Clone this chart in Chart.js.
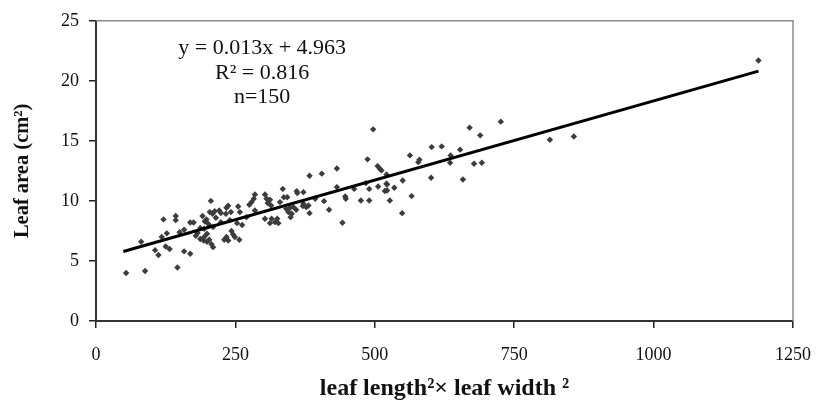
<!DOCTYPE html>
<html><head><meta charset="utf-8">
<script src="https://cdn.jsdelivr.net/npm/chart.js@4"></script>
<style>html,body{margin:0;padding:0;background:#fff}#wrap{width:821px;height:401px}</style>
</head><body><div id="wrap"><canvas id="c" width="821" height="401"></canvas></div>
<script>
const xValues = [54,88,146,81,106,112,118,127,121,143,143,125,132,158,158,169,169,175,191,198,187,182,194,179,187,193,199,
206,204,209,213,195,200,221,224,234,237,233,242,255,258,275,279,285,283,303,306,308,312,314,335,337,343,360,361,341,348,345,351,
303,315,325,312,321,327,194,204,210,199,203,207,210,230,234,237,243,246,249,257,253,224,270,
383,405,432,487,505,509,512,372,432,447,448,463,484,490,506,521,522,475,490,527,409,418,383,442,372,377,381,354,359,349,393,
670,726,689,602,620,653,636,635,678,692,563,580,578,601,658,550,521,522,518,535,566,549,497,814,857,1188,
215,240,262,150,285,330,371];
const yValues = [4.0,4.17,4.46,6.6,5.9,5.5,7.0,7.3,8.46,8.75,8.4,6.2,6.0,7.6,5.8,5.6,8.2,8.2,8.75,8.46,7.75,7.33,7.0,7.1,6.83,6.7,6.6,
10.0,9.07,8.93,9.15,8.3,8.15,9.2,9.0,9.43,9.6,8.93,9.07,9.54,9.07,9.68,9.9,10.54,10.18,10.54,10.18,9.82,10.1,9.62,11.0,10.3,10.3,10.8,10.65,9.35,9.43,9.07,8.93,
8.52,8.52,8.52,8.15,8.23,8.15,7.68,7.96,7.82,7.27,6.77,6.4,6.15,6.77,7.0,6.7,7.5,7.2,7.0,6.77,8.15,8.23,8.65,
12.1,12.27,12.7,13.46,12.9,12.68,12.54,10.73,11.15,10.37,10.18,11.0,11.48,11.0,11.2,11.43,10.87,10.04,10.04,10.04,9.98,9.27,8.98,8.18,9.77,9.48,9.62,9.48,9.27,8.65,10.18,
16.1,16.6,15.46,14.48,14.54,14.27,13.79,13.18,13.1,13.18,13.79,13.43,13.23,11.93,11.79,11.7,12.2,11.37,10.82,11.1,10.4,8.98,15.96,15.1,15.37,21.7,
8.6,8.4,8.0,7.4,9.2,9.9,9.57];
const trendX = [49, 1188];
const trendY = [5.79, 20.81];
const xTicks = [0, 250, 500, 750, 1000, 1250];
const yTicks = [0, 5, 10, 15, 20, 25];
const annotationLines = ["y = 0.013x + 4.963", "R\u00b2 = 0.816", "n=150"];
const xTitle = "leaf length\u00b2\u00d7 leaf width \u00b2";
const yTitle = "Leaf area (cm\u00b2)";

const serif = "'Liberation Serif', 'Times New Roman', serif";
const scatterData = xValues.map((x, i) => ({x: x, y: yValues[i]}));
const trendData = trendX.map((x, i) => ({x: x, y: trendY[i]}));

const boxPlugin = {
  id: 'box',
  beforeDatasetsDraw(chart) {
    const {ctx, chartArea: a} = chart;
    ctx.save();
    ctx.strokeStyle = '#8a8a8a';
    ctx.lineWidth = 1.5;
    ctx.beginPath();
    ctx.moveTo(a.left, a.top);
    ctx.lineTo(a.right, a.top);
    ctx.lineTo(a.right, a.bottom);
    ctx.stroke();
    ctx.restore();
  },
  afterDraw(chart) {
    const {ctx} = chart;
    const xs = chart.scales.x, ys = chart.scales.y;
    ctx.save();
    ctx.fillStyle = '#111';
    ctx.font = "22px " + serif;
    ctx.textAlign = 'center';
    ctx.textBaseline = 'middle';
    const cx = xs.getPixelForValue(298);
    const rows = [22.7, 20.67, 18.6];
    annotationLines.forEach((t, i) => ctx.fillText(t, cx, ys.getPixelForValue(rows[i])));
    ctx.restore();
  }
};

new Chart(document.getElementById('c'), {
  data: {
    datasets: [
      {type: 'scatter', data: scatterData, pointStyle: 'rectRot', pointRadius: 3.2, pointBackgroundColor: '#3c3c3c', pointBorderColor: '#3c3c3c', pointBorderWidth: 0, order: 2},
      {type: 'line', data: trendData, borderColor: '#000', borderWidth: 3, pointRadius: 0, fill: false, order: 1}
    ]
  },
  options: {
    responsive: false,
    animation: false,
    layout: {padding: {top: 20, right: 28, left: 0, bottom: 0}},
    plugins: {legend: {display: false}, tooltip: {enabled: false}},
    scales: {
      x: {
        type: 'linear', min: 0, max: 1250,
        afterBuildTicks: s => { s.ticks = xTicks.map(v => ({value: v})); },
        afterFit: s => { s.height = 80; s.paddingRight = 0; s.paddingLeft = 0; },
        grid: {drawOnChartArea: false, tickLength: 7, color: '#222', lineWidth: 1.5},
        border: {color: '#333', width: 2},
        ticks: {font: {family: serif, size: 18}, color: '#111', padding: 16, maxRotation: 0, callback: v => String(v)},
        title: {display: true, text: xTitle, font: {family: serif, size: 24, weight: 'bold'}, color: '#111', padding: {top: 0, bottom: -2}}
      },
      y: {
        type: 'linear', min: 0, max: 25,
        afterBuildTicks: s => { s.ticks = yTicks.map(v => ({value: v})); },
        afterFit: s => { s.width = 96; },
        grid: {drawOnChartArea: false, tickLength: 7, color: '#222', lineWidth: 1.5},
        border: {color: '#333', width: 2},
        ticks: {font: {family: serif, size: 18}, color: '#111', padding: 10, callback: v => String(v)},
        title: {display: true, text: yTitle, font: {family: serif, size: 20.5, weight: 'bold'}, color: '#111', padding: {top: 10, bottom: 0}}
      }
    }
  },
  plugins: [boxPlugin]
});
</script>
</body></html>
